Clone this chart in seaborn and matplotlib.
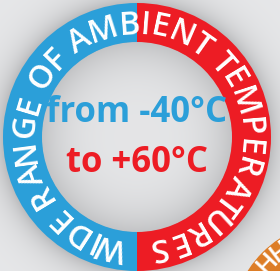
import numpy as np
import matplotlib
matplotlib.use("Agg")
import matplotlib.pyplot as plt
import seaborn as sns
from matplotlib.font_manager import FontProperties
from matplotlib.textpath import TextToPath
from matplotlib.patches import Circle

# data
halves = ["cold", "hot"]
shares = [50, 50]
ring_colors = ["#2b9fd9", "#ed1c24"]
ring_text = "WIDE RANGE OF AMBIENT TEMPERATURES"
temp_lines = ["from -40°C", "to +60°C"]
temp_colors = ["#2b9fd9", "#ed1c24"]
badge_text = "HH"

sns.set_theme(style="white")
plt.rcParams["font.family"] = ["Open Sans", "DejaVu Sans"]

W, H = 280, 271
cx, cy = 137, 134      # ring centre (y up)
r_out, r_in = 134, 95

fig = plt.figure(figsize=(2.8, 2.71), dpi=100)
ax = fig.add_axes([0, 0, 1, 1])
ax.set_xlim(0, W)
ax.set_ylim(0, H)
ax.set_aspect("equal")
ax.axis("off")

# background: light grey with a soft shadow round the ring, shaded inside
yy, xx = np.mgrid[0:H, 0:W] + 0.5
d = np.hypot(xx - cx, (H - yy) - cy)
g = np.full(d.shape, 0.905)
out = d >= r_in
g[out] = 0.905 - 0.17 * np.exp(-(d[out] - r_out) / 14.0).clip(0, 1)
inn = d < r_in
g[inn] = 0.895 - 0.13 * (d[inn] / r_in) ** 3.5
img = np.dstack([g, g + 0.003, g + 0.01]).clip(0, 1)
ax.imshow(img, extent=[0, W, 0, H], origin="upper", zorder=0)

# orange neighbour badge
ox, oy, orad = 340, -59, 109
ax.add_patch(Circle((ox, oy), orad, color="#dd7d27", zorder=1))
for ch, th in zip(badge_text, [137, 127]):
    t = np.deg2rad(th)
    ax.text(ox + 92 * np.cos(t), oy + 92 * np.sin(t), ch, color="white",
            fontsize=19, fontweight="semibold", rotation=th - 90,
            rotation_mode="anchor", ha="center", va="baseline", zorder=2)

# ring: two halves
ax.pie(shares, colors=ring_colors, startangle=90, counterclock=True,
       radius=r_out, center=(cx, cy), frame=True,
       wedgeprops=dict(width=r_out - r_in, linewidth=0))
ax.set_xlim(0, W)
ax.set_ylim(0, H)
ax.axis("off")

# curved text round the ring
fp = FontProperties(family="Open Sans", weight="semibold", size=23)
ttp = TextToPath()
base = ttp.get_text_width_height_descent("|", fp, ismath=False)[0]
pos = [ttp.get_text_width_height_descent(ring_text[:i] + "|", fp, ismath=False)[0] - base
       for i in range(len(ring_text) + 1)]
pos[0] = 0
total = pos[-1]
th0, th1 = 265, -84
r_base = 103
for i, ch in enumerate(ring_text):
    if ch == " ":
        continue
    c = (pos[i] + pos[i + 1]) / 2
    th = th0 - (c / total) * (th0 - th1)
    t = np.deg2rad(th)
    ax.text(cx + r_base * np.cos(t), cy + r_base * np.sin(t), ch, color="white",
            fontproperties=fp, rotation=th - 90, rotation_mode="anchor",
            ha="center", va="baseline", zorder=5)

# centre text
for txt, col, y in zip(temp_lines, temp_colors, [149, 99]):
    ax.text(cx, y, txt, color=col, fontsize=25, fontweight="bold",
            ha="center", va="baseline", zorder=5)

fig.savefig("out.png", dpi=100)
